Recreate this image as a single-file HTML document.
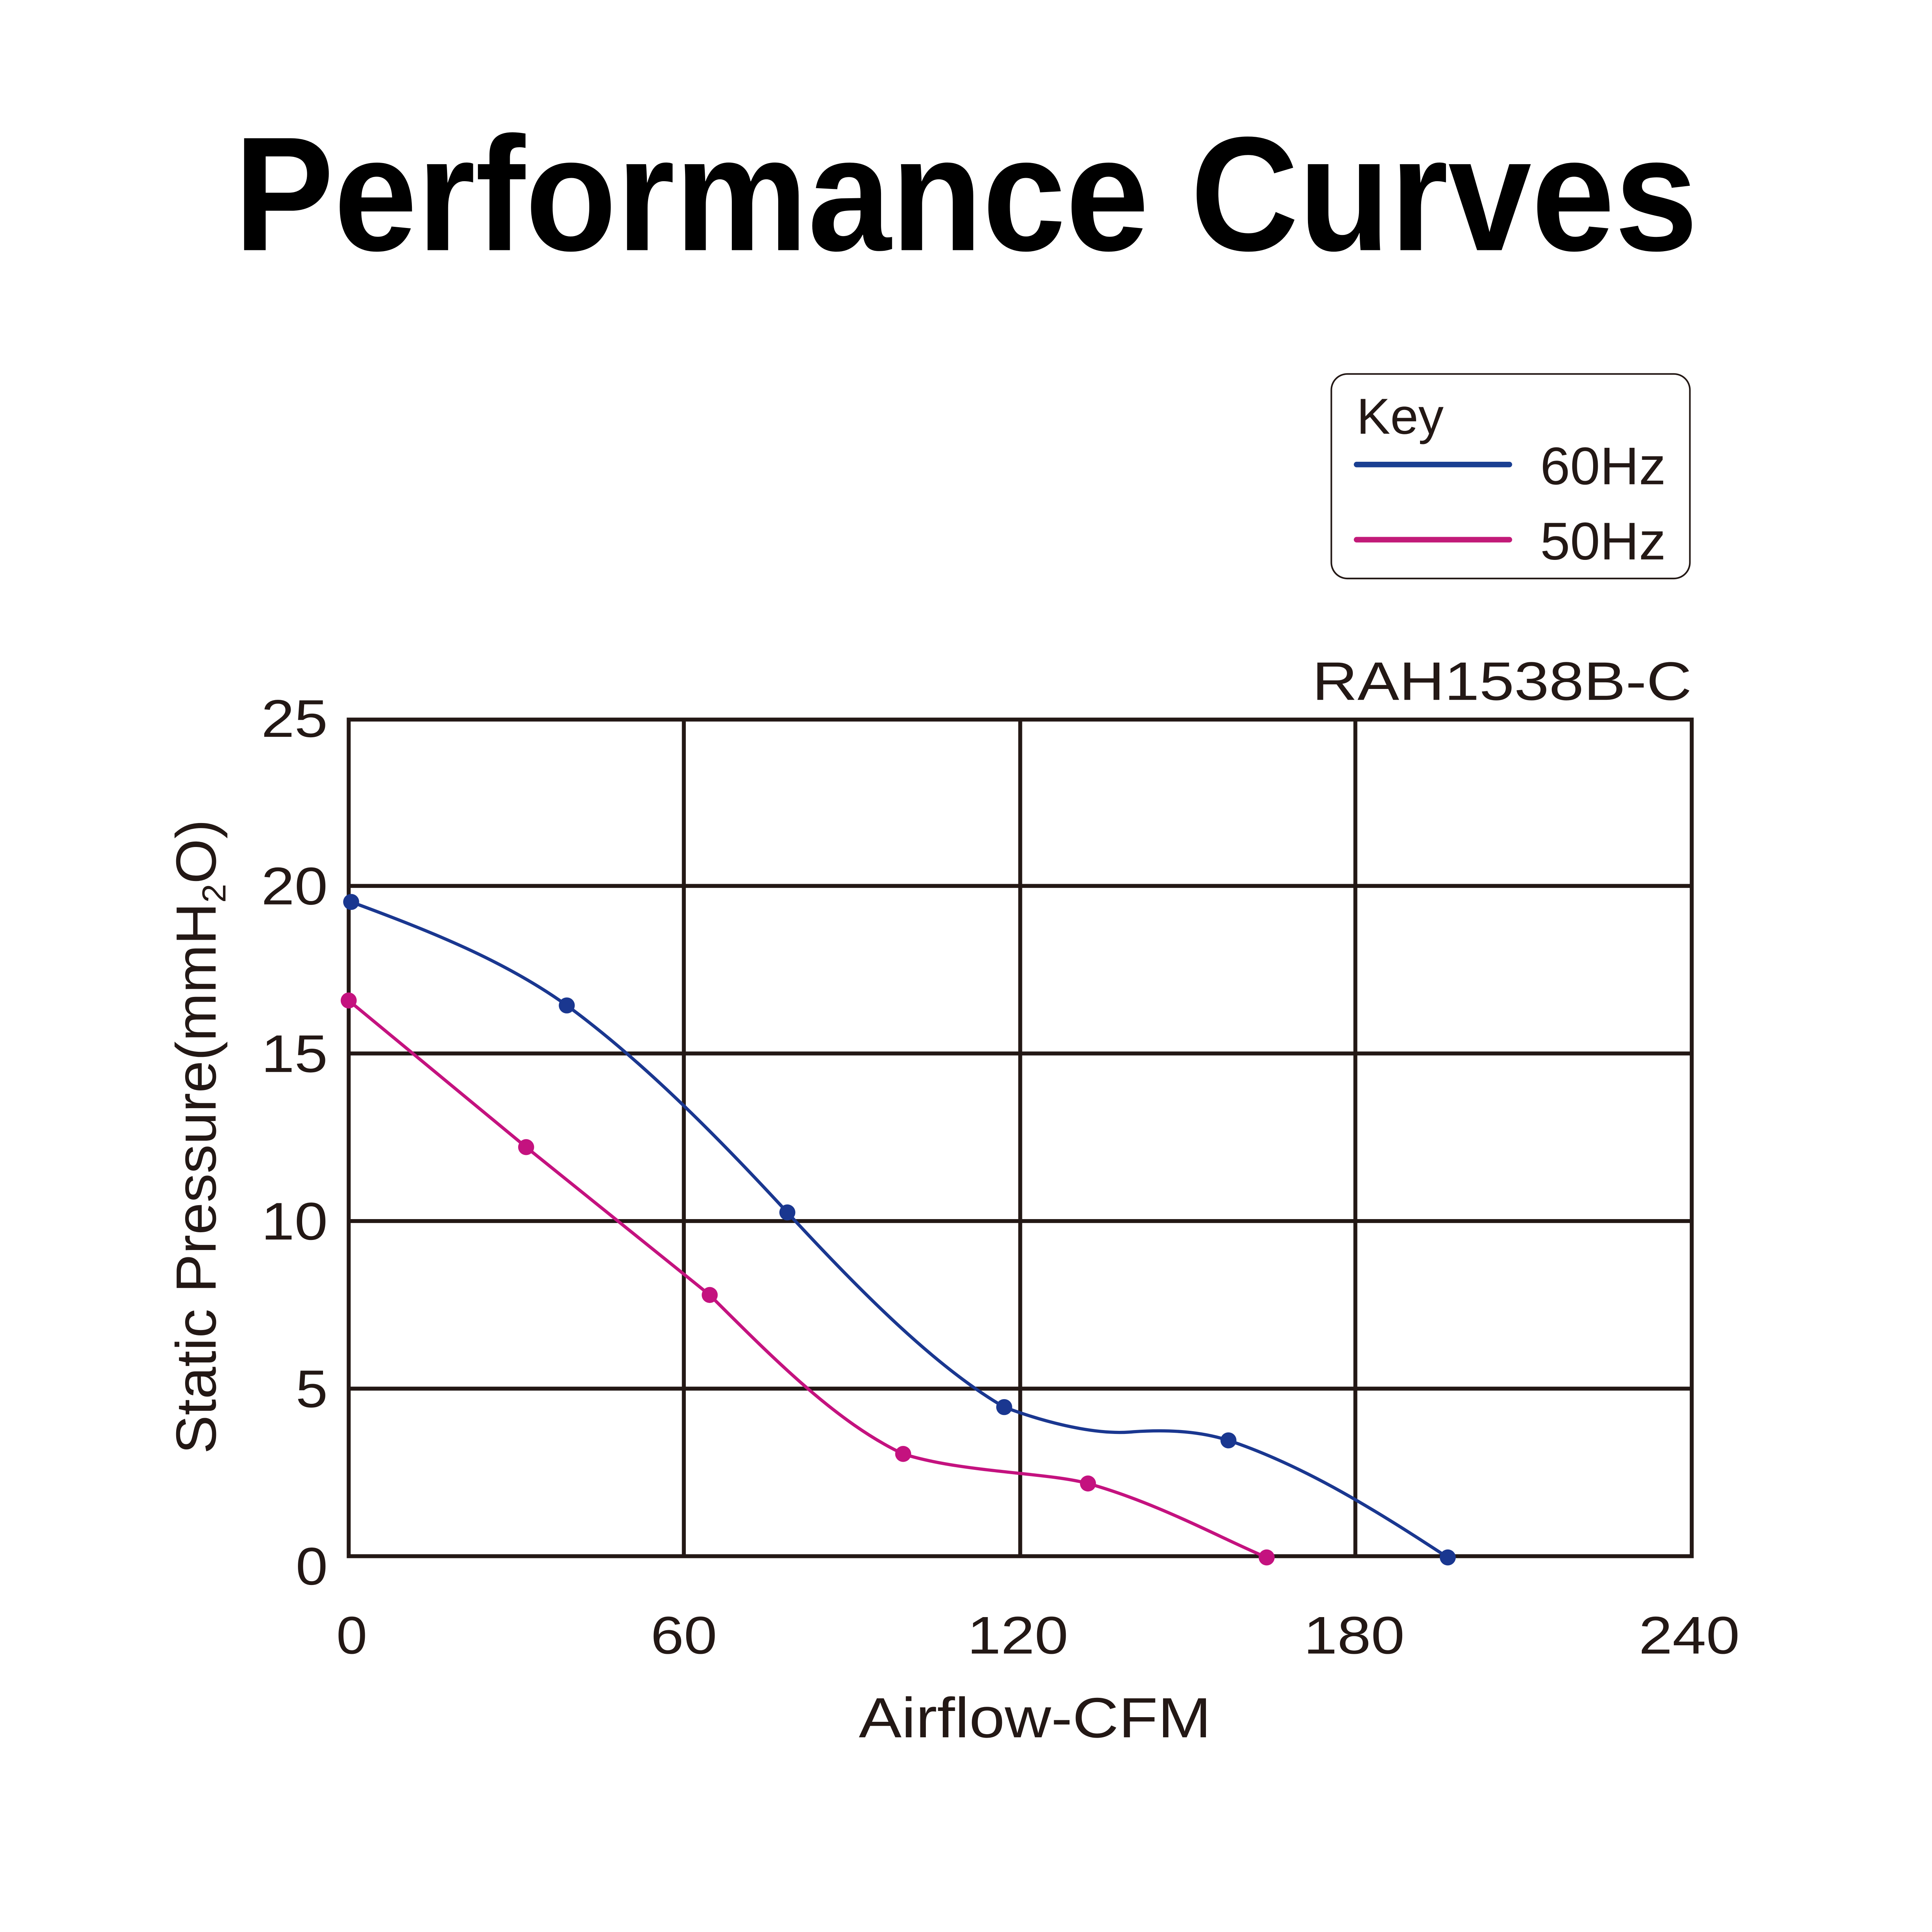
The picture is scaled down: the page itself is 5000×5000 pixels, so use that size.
<!DOCTYPE html>
<html><head><meta charset="utf-8"><style>html,body{margin:0;padding:0;background:#fff}svg{display:block}</style></head>
<body>
<svg width="5000" height="5000" viewBox="0 0 1568 1568" xmlns="http://www.w3.org/2000/svg" font-family="Liberation Sans, Arial, sans-serif">
<rect width="1568" height="1568" fill="#fff"/>
<text x="190" y="203" font-size="132" font-weight="bold" fill="#000" textLength="1188" lengthAdjust="spacingAndGlyphs">Performance Curves</text>
<rect x="1080.5" y="303.5" width="291" height="166" rx="13" fill="#fff" stroke="#231815" stroke-width="1.3"/>
<text x="1101" y="352" font-size="41" fill="#231815">Key</text>
<line x1="1101" y1="377" x2="1225" y2="377" stroke="#1a3f92" stroke-width="4.5" stroke-linecap="round"/>
<line x1="1101" y1="438" x2="1225" y2="438" stroke="#c21a78" stroke-width="4.5" stroke-linecap="round"/>
<text x="1250" y="393" font-size="43" fill="#231815" textLength="102" lengthAdjust="spacingAndGlyphs">60Hz</text>
<text x="1250" y="454" font-size="43" fill="#231815" textLength="102" lengthAdjust="spacingAndGlyphs">50Hz</text>
<text x="1065" y="568" font-size="44" fill="#231815" textLength="308" lengthAdjust="spacingAndGlyphs">RAH1538B-C</text>
<g stroke="#231815" stroke-width="3.2" fill="none">
<rect x="283" y="584" width="1090" height="679"/>
<line x1="555" y1="584" x2="555" y2="1263"/><line x1="828" y1="584" x2="828" y2="1263"/><line x1="1100" y1="584" x2="1100" y2="1263"/>
<line x1="283" y1="719" x2="1373" y2="719"/><line x1="283" y1="855" x2="1373" y2="855"/><line x1="283" y1="991" x2="1373" y2="991"/><line x1="283" y1="1127" x2="1373" y2="1127"/>
</g>
<g font-size="43" fill="#231815">
<text x="212" y="598" textLength="54" lengthAdjust="spacingAndGlyphs">25</text>
<text x="212" y="734" textLength="54" lengthAdjust="spacingAndGlyphs">20</text>
<text x="212" y="870" textLength="54" lengthAdjust="spacingAndGlyphs">15</text>
<text x="212" y="1006" textLength="54" lengthAdjust="spacingAndGlyphs">10</text>
<text x="240" y="1142" textLength="26" lengthAdjust="spacingAndGlyphs">5</text>
<text x="240" y="1286" textLength="26" lengthAdjust="spacingAndGlyphs">0</text>
<text x="273" y="1342" textLength="25" lengthAdjust="spacingAndGlyphs">0</text>
<text x="528" y="1342" textLength="54" lengthAdjust="spacingAndGlyphs">60</text>
<text x="785" y="1342" textLength="82" lengthAdjust="spacingAndGlyphs">120</text>
<text x="1058" y="1342" textLength="82" lengthAdjust="spacingAndGlyphs">180</text>
<text x="1330" y="1342" textLength="82" lengthAdjust="spacingAndGlyphs">240</text>
<text x="697" y="1410" font-size="46" textLength="286" lengthAdjust="spacingAndGlyphs">Airflow-CFM</text>
</g>
<text transform="translate(175,1180) rotate(-90)" font-size="46" fill="#231815" textLength="515" lengthAdjust="spacingAndGlyphs">Static Pressure(mmH<tspan font-size="27" dy="8">2</tspan><tspan dy="-8">O)</tspan></text>
<path d="M285,732 C350,756 410,780 460,816 C520,860 580,920 639,984 C700,1050 760,1110 815,1142 C850,1155 890,1165 920,1162 C950,1160 975,1162 997,1169 C1060,1190 1120,1228 1175,1264" fill="none" stroke="#1a3790" stroke-width="2.6"/>
<path d="M283,812 L427,931 L576,1051 C630,1105 680,1155 733,1180 C780,1195 850,1195 883,1204 C940,1220 990,1248 1028,1264" fill="none" stroke="#c4127f" stroke-width="2.6"/>
<g fill="#1a3790"><circle cx="285" cy="732" r="6.5"/><circle cx="460" cy="816" r="6.5"/><circle cx="639" cy="984" r="6.5"/><circle cx="815" cy="1142" r="6.5"/><circle cx="997" cy="1169" r="6.5"/><circle cx="1175" cy="1264" r="6.5"/></g>
<g fill="#c4127f"><circle cx="283" cy="812" r="6.5"/><circle cx="427" cy="931" r="6.5"/><circle cx="576" cy="1051" r="6.5"/><circle cx="733" cy="1180" r="6.5"/><circle cx="883" cy="1204" r="6.5"/><circle cx="1028" cy="1264" r="6.5"/></g>
</svg>
</body></html>
